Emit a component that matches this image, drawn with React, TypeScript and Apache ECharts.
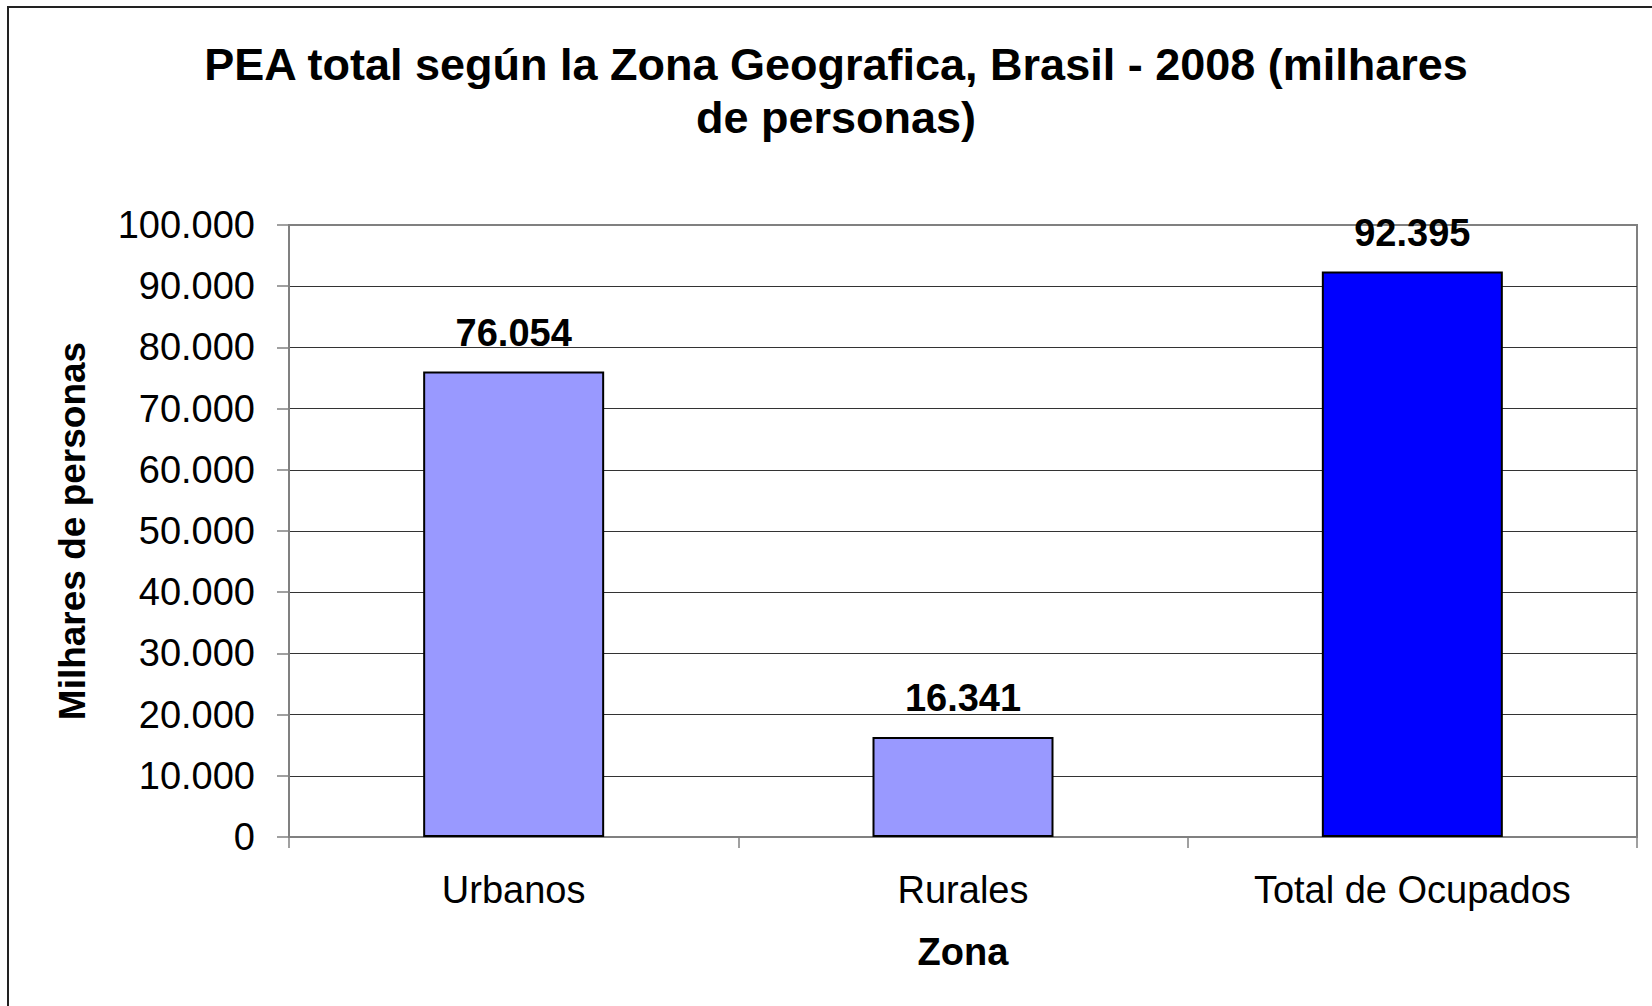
import React, { useEffect, useRef } from "react";
import * as echarts from "echarts";

const titleText = "PEA total según la Zona Geografica, Brasil - 2008 (milhares\nde personas)";
const categories = ["Urbanos", "Rurales", "Total de Ocupados"];
const values = [76054, 16341, 92395];
const barColors = ["#9999FF", "#9999FF", "#0000FF"];
const yAxisTitle = "Milhares de personas";
const xAxisTitle = "Zona";

const FONT = "'Liberation Sans', Arial, sans-serif";

function fmt(v: number): string {
  return String(v).replace(/\B(?=(\d{3})+(?!\d))/g, ".");
}

export default function App() {
  const ref = useRef<HTMLDivElement>(null);
  useEffect(() => {
    if (!ref.current) return;
    const chart = echarts.init(ref.current, undefined, { renderer: "svg" });
    chart.setOption({
      animation: false,
      backgroundColor: "#ffffff",
      textStyle: { fontFamily: FONT },
      title: {
        text: titleText,
        left: 836,
        textAlign: "center",
        top: 38,
        padding: 0,
        textStyle: {
          fontFamily: FONT,
          fontSize: 45,
          fontWeight: "bold",
          color: "#000",
          lineHeight: 53,
        },
      },
      grid: {
        left: 289,
        top: 225,
        width: 1348,
        height: 612,
        show: true,
        borderColor: "#808080",
        borderWidth: 2,
        backgroundColor: "transparent",
      },
      xAxis: {
        type: "category",
        data: categories,
        name: xAxisTitle,
        nameLocation: "middle",
        nameGap: 96,
        nameTextStyle: {
          fontFamily: FONT,
          fontSize: 38,
          fontWeight: "bold",
          color: "#000",
          lineHeight: 38,
        },
        axisLine: { show: true, lineStyle: { color: "#808080", width: 2 } },
        axisTick: { show: true, length: 11, lineStyle: { color: "#808080", width: 1.5 } },
        axisLabel: {
          margin: 34,
          fontFamily: FONT,
          fontSize: 38,
          color: "#000",
          lineHeight: 38,
        },
        splitLine: { show: false },
      },
      yAxis: {
        type: "value",
        min: 0,
        max: 100000,
        interval: 10000,
        name: yAxisTitle,
        nameLocation: "middle",
        nameRotate: 90,
        nameGap: 198,
        nameTextStyle: {
          fontFamily: FONT,
          fontSize: 37,
          fontWeight: "bold",
          color: "#000",
          lineHeight: 37,
        },
        axisLine: { show: true, lineStyle: { color: "#808080", width: 2 } },
        axisTick: { show: true, length: 12, lineStyle: { color: "#808080", width: 1.5 } },
        axisLabel: {
          margin: 34,
          fontFamily: FONT,
          fontSize: 38,
          color: "#000",
          formatter: (v: number) => fmt(v),
        },
        splitLine: {
          show: true,
          showMinLine: false,
          showMaxLine: false,
          lineStyle: { color: "#333", width: 1 },
        },
      },
      series: [
        {
          type: "bar",
          barWidth: 181,
          data: values.map((v, i) => ({
            value: v,
            itemStyle: { color: barColors[i], borderColor: "#000", borderWidth: 2 },
          })),
          label: {
            show: true,
            position: "top",
            distance: 20,
            fontFamily: FONT,
            fontSize: 38,
            fontWeight: "bold",
            color: "#000",
            lineHeight: 38,
            formatter: (p: any) => fmt(p.value),
          },
        },
      ],
    });
    return () => chart.dispose();
  }, []);

  return (
    <div
      style={{
        position: "fixed",
        left: 0,
        top: 0,
        width: 1652,
        height: 1006,
        overflow: "hidden",
        background: "#fff",
      }}
    >
      <div ref={ref} style={{ position: "absolute", left: 0, top: 0, width: 1652, height: 1006 }} />
      <div
        style={{
          position: "absolute",
          left: 7,
          top: 6,
          width: 2000,
          height: 2000,
          border: "2px solid #222",
          pointerEvents: "none",
        }}
      />
    </div>
  );
}
